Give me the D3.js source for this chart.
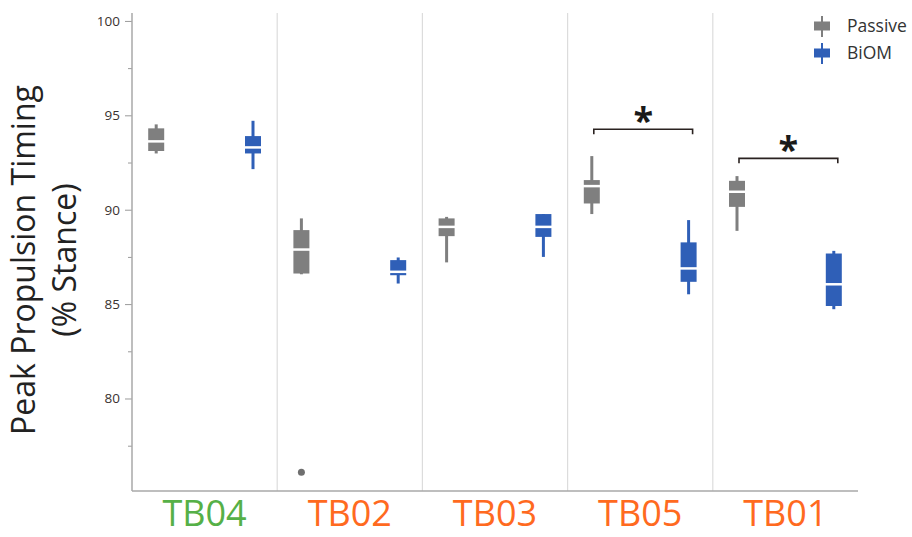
<!DOCTYPE html>
<html>
<head>
<meta charset="utf-8">
<script src="https://cdn.jsdelivr.net/npm/d3@7"></script>
<style>
  html, body { margin: 0; padding: 0; background: #fff; }
  svg { display: block; }
</style>
</head>
<body>
<svg id="chart" width="912" height="537"></svg>
<script>
// ---- data ----
const categories = ["TB04", "TB02", "TB03", "TB05", "TB01"];
const categoryColors = ["#56b047", "#ff6a1f", "#ff6a1f", "#ff6a1f", "#ff6a1f"];
const series = ["Passive", "BiOM"];
// [min, q1, median, q3, max]
const passiveStats = [
  [92.98, 93.11, 93.62, 94.31, 94.52],
  [86.58, 86.62, 87.89, 88.92, 89.54],
  [87.21, 88.60, 89.09, 89.54, 89.62],
  [89.77, 90.33, 91.25, 91.57, 92.84],
  [88.88, 90.15, 90.95, 91.53, 91.78]
];
const biomStats = [
  [92.15, 92.98, 93.30, 93.90, 94.71],
  [86.09, 86.53, 86.71, 87.33, 87.47],
  [87.50, 88.56, 89.09, 89.77, 89.77],
  [85.52, 86.18, 86.89, 88.27, 89.45],
  [84.73, 84.90, 86.05, 87.68, 87.82]
];
const passiveOutliers = [[], [76.09], [], [], []];
const biomOutliers = [[], [], [], [], []];
// significance brackets: category, level (value)
const sigCategories = ["TB05", "TB01"];
const sigLevels = [94.26, 92.72];
const majorTicks = [80, 85, 90, 95, 100];
const minorTicks = [77.5, 82.5, 87.5, 92.5, 97.5];
const yTitle = ["Peak Propulsion Timing", "(% Stance)"];

const seriesColors = { Passive: "#7f7f7f", BiOM: "#2f5fb7" };

// ---- layout ----
const svg = d3.select("#chart");
const L = 132, R = 858, T = 13, B = 491;

const x = d3.scaleBand().domain(categories).range([L, R]).padding(0);
const xs = d3.scalePoint().domain(series).range([0, x.bandwidth()]).padding(0.25);
const y = d3.scaleLinear().domain([75.1, 100.42]).range([B, T]);

const boxW = 16;

// category separators
svg.append("g").selectAll("line")
  .data(categories.slice(1))
  .join("line")
  .attr("x1", d => x(d)).attr("x2", d => x(d))
  .attr("y1", T).attr("y2", B)
  .attr("stroke", "#dcdcdc").attr("stroke-width", 1.2);

// y axis
const yAxis = svg.append("g").attr("transform", `translate(${L},0)`)
  .call(d3.axisLeft(y).tickValues(majorTicks).tickSize(7).tickPadding(5).tickFormat(d3.format("d")));
yAxis.select(".domain").remove();
yAxis.selectAll(".tick line").attr("stroke", "#9a9a9a");
yAxis.selectAll(".tick text")
  .attr("fill", "#3a3230")
  .style("font-family", "'Open Sans', sans-serif")
  .style("font-size", "13.5px");

const yMinor = svg.append("g").attr("transform", `translate(${L},0)`)
  .call(d3.axisLeft(y).tickValues(minorTicks).tickSize(4).tickFormat(""));
yMinor.select(".domain").remove();
yMinor.selectAll(".tick line").attr("stroke", "#9a9a9a");

// axis lines
svg.append("line").attr("x1", L).attr("x2", L).attr("y1", T).attr("y2", B)
  .attr("stroke", "#a8a8a8").attr("stroke-width", 1.5);
svg.append("line").attr("x1", L).attr("x2", R).attr("y1", B).attr("y2", B)
  .attr("stroke", "#a8a8a8").attr("stroke-width", 1.5);

// x labels
svg.append("g").selectAll("text")
  .data(categories)
  .join("text")
  .attr("x", d => x(d) + x.bandwidth() / 2)
  .attr("y", 526)
  .attr("text-anchor", "middle")
  .attr("fill", (d, i) => categoryColors[i])
  .style("font-family", "'Open Sans', sans-serif")
  .style("font-size", "36px")
  .text(d => d);

// y title
const yt = svg.append("text")
  .attr("transform", "translate(0,260) rotate(-90)")
  .attr("text-anchor", "middle")
  .attr("fill", "#222")
  .style("font-family", "'Open Sans', sans-serif")
  .style("font-size", "32px");
yt.append("tspan").attr("x", 0).attr("y", 35).text(yTitle[0]);
yt.append("tspan").attr("x", 0).attr("y", 76).text(yTitle[1]);

// boxes
const boxData = [];
categories.forEach((c, i) => {
  boxData.push({ cat: c, ser: "Passive", s: passiveStats[i], out: passiveOutliers[i] });
  boxData.push({ cat: c, ser: "BiOM", s: biomStats[i], out: biomOutliers[i] });
});

const g = svg.append("g").selectAll("g")
  .data(boxData)
  .join("g")
  .attr("transform", d => `translate(${x(d.cat) + xs(d.ser)},0)`);

g.append("line")
  .attr("x1", 0).attr("x2", 0)
  .attr("y1", d => y(d.s[4])).attr("y2", d => y(d.s[0]))
  .attr("stroke", d => seriesColors[d.ser]).attr("stroke-width", 3);

g.append("rect")
  .attr("x", -boxW / 2).attr("width", boxW)
  .attr("y", d => y(d.s[3])).attr("height", d => y(d.s[1]) - y(d.s[3]))
  .attr("fill", d => seriesColors[d.ser]);

g.append("line")
  .attr("x1", -boxW / 2 - 1).attr("x2", boxW / 2 + 1)
  .attr("y1", d => y(d.s[2])).attr("y2", d => y(d.s[2]))
  .attr("stroke", "#fff").attr("stroke-width", 2.5);

g.selectAll("circle")
  .data(d => d.out.map(v => ({ v, ser: d.ser })))
  .join("circle")
  .attr("cx", 0).attr("cy", d => y(d.v)).attr("r", 3.5)
  .attr("fill", "#6f6f6f");

// significance brackets
sigCategories.forEach((c, i) => {
  const x1 = x(c) + xs("Passive") + 2;
  const x2 = x(c) + xs("BiOM") + 4;
  const yy = y(sigLevels[i]);
  svg.append("path")
    .attr("d", `M${x1},${yy + 5}V${yy}H${x2}V${yy + 5}`)
    .attr("fill", "none").attr("stroke", "#2a2220").attr("stroke-width", 1.6);
  svg.append("text")
    .attr("x", (x1 + x2) / 2).attr("y", yy + 4)
    .attr("text-anchor", "middle")
    .attr("fill", "#1a1a1a")
    .style("font-family", "'Open Sans', sans-serif")
    .style("font-weight", "bold")
    .style("font-size", "36px")
    .text("*");
});

// legend
const leg = svg.append("g").selectAll("g")
  .data(series)
  .join("g")
  .attr("transform", (d, i) => `translate(822,${26 + i * 27})`);
leg.append("line").attr("x1", 0).attr("x2", 0).attr("y1", -10).attr("y2", 11)
  .attr("stroke", d => seriesColors[d]).attr("stroke-width", 2);
leg.append("rect").attr("x", -8).attr("width", 16).attr("y", -4.5).attr("height", 9)
  .attr("fill", d => seriesColors[d]);
leg.append("text").attr("x", 25).attr("y", 6)
  .attr("fill", "#333")
  .style("font-family", "'Open Sans', sans-serif")
  .style("font-size", "17.5px")
  .text(d => d);
</script>
</body>
</html>
